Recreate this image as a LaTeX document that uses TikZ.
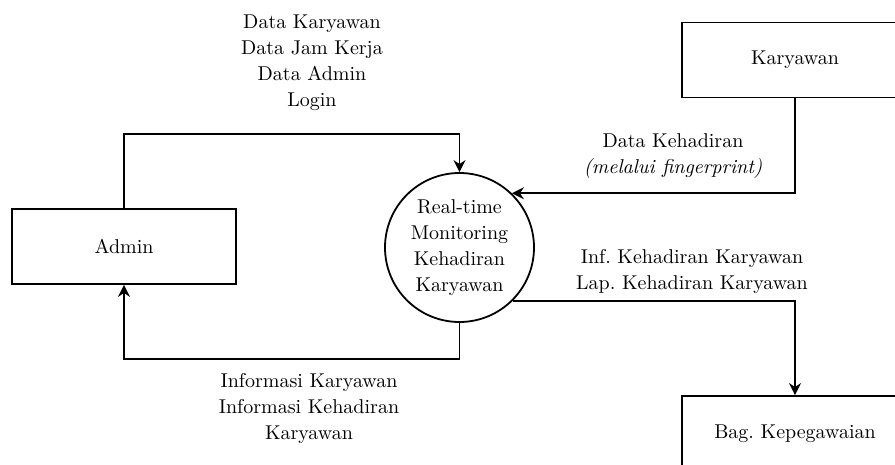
\documentclass[tikz,border=0pt]{standalone}
\usetikzlibrary{arrows.meta}
\frenchspacing
\begin{document}
\begin{tikzpicture}[x=0.5pt,y=-0.5pt,
	every node/.style={font=\fontsize{10}{13}\selectfont,align=center},
	entity/.style={rectangle,draw,line width=0.9pt,minimum width=112pt,minimum height=37.5pt},
	proses/.style={circle,draw,line width=0.9pt,minimum size=74.5pt,inner sep=0},
	flow/.style={line width=0.9pt,-{Stealth[length=6pt,width=6pt]}}]
\clip (0,0) rectangle (895,465);
% entitas dan proses
\node[entity] (admin) at (124,246.5) {Admin};
\node[entity,minimum width=113pt] (kary) at (795,60) {Karyawan};
\node[entity,minimum width=113pt] (bag) at (795,433.5) {Bag. Kepegawaian};
\node[proses] (proc) at (459.5,247.5) {Real-time\\Monitoring\\Kehadiran\\Karyawan};
% aliran data
\draw[flow] (admin.north) -- ++(0,-74) -| (proc.north);
\draw[flow] (kary.south) |- (proc.46);
\draw[flow] (proc.-45) -| (bag.north);
\draw[flow] (proc.south) -- ++(0,36) -| (admin.south);
% label aliran
\node (lblmasuk) at (312,62.5) {Data Karyawan\\Data Jam Kerja\\Data Admin\\Login};
\node (lblhadir) at (673,156.5) {Data Kehadiran\\\textit{(melalui fingerprint)}};
\node (lbllap) at (692,271) {Inf. Kehadiran Karyawan\\Lap. Kehadiran Karyawan};
\node (lblinfo) at (309,408.5) {Informasi Karyawan\\Informasi Kehadiran\\Karyawan};
\end{tikzpicture}
\end{document}
